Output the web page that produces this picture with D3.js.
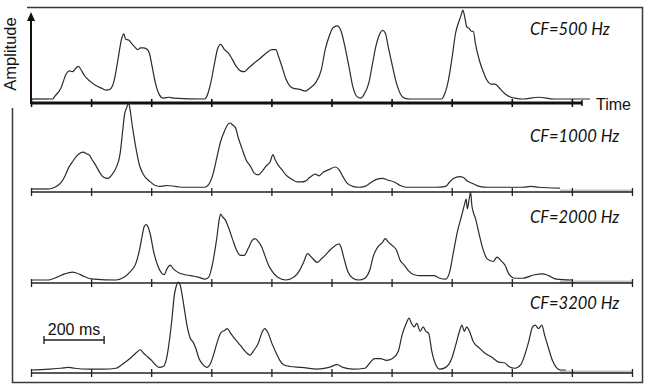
<!DOCTYPE html>
<html><head><meta charset="utf-8">
<script src="https://cdn.jsdelivr.net/npm/d3@7"></script>
<style>html,body{margin:0;padding:0;background:#fff;}svg{display:block;}</style>
</head><body>
<svg id="chart" width="654" height="392"></svg>
<script>
// ---- data (time in ms, amplitude in relative units 0-100) ----
const labels = ["CF=500 Hz", "CF=1000 Hz", "CF=2000 Hz", "CF=3200 Hz"];
const tickMs = [0,200,400,600,800,1000,1200,1400,1600,1800,2000];
const scaleBarMs = 200;

const cf500 = [[0,0],[72,0],[79,3],[99,12],[118,29],[127,32],[138,31],[149,35],[158,37],[167,33],[177,27],[197,20],[217,15],[237,12],[250,10],[263,11],[276,20],[289,44],[302,69],[309,74],[315,68],[325,67],[335,63],[346,59],[355,56],[364,58],[375,58],[388,56],[394,52],[403,37],[414,18],[427,5],[440,1],[460,2],[473,1],[578,0],[585,3],[598,18],[611,41],[620,56],[631,62],[644,56],[657,52],[670,45],[683,37],[697,32],[710,31],[723,35],[743,41],[762,46],[782,52],[802,56],[815,56],[824,48],[835,37],[848,23],[861,15],[874,12],[894,11],[913,9],[927,12],[946,18],[966,33],[979,56],[992,71],[1005,81],[1019,83],[1032,77],[1045,59],[1058,37],[1071,14],[1084,3],[1097,1],[1108,5],[1124,18],[1137,41],[1147,59],[1157,71],[1170,78],[1179,75],[1189,59],[1203,37],[1216,18],[1229,6],[1242,1],[1262,0],[1367,0],[1373,3],[1387,18],[1400,44],[1413,75],[1426,90],[1433,97],[1437,101],[1443,94],[1450,82],[1459,80],[1465,77],[1472,77],[1479,63],[1492,44],[1505,31],[1518,21],[1531,17],[1544,17],[1557,13],[1577,6],[1597,2],[1610,1],[1636,0],[1689,2],[1741,0],[1860,0]];

const cf1000 = [[0,0],[59,0],[79,2],[99,7],[112,14],[125,24],[138,31],[151,37],[164,41],[175,42],[184,40],[193,39],[204,33],[217,26],[230,18],[243,13],[256,12],[269,16],[283,24],[296,39],[306,69],[311,84],[318,92],[325,97],[330,90],[335,77],[342,61],[351,43],[361,27],[375,16],[394,9],[414,4],[434,3],[453,4],[480,3],[506,2],[559,2],[578,2],[591,5],[605,16],[618,35],[631,54],[644,66],[657,74],[664,75],[670,73],[680,70],[690,58],[703,45],[716,33],[730,26],[743,18],[756,16],[769,20],[782,26],[796,31],[805,39],[813,33],[821,28],[835,22],[848,16],[868,11],[887,8],[900,8],[913,9],[927,13],[946,17],[959,15],[972,19],[992,22],[1012,25],[1025,22],[1038,14],[1051,7],[1071,3],[1091,2],[1111,3],[1130,7],[1150,11],[1170,12],[1189,10],[1209,8],[1229,4],[1249,2],[1295,2],[1347,2],[1380,3],[1393,8],[1406,12],[1426,14],[1439,13],[1452,9],[1472,6],[1492,3],[1518,2],[1597,2],[1636,2],[1663,3],[1689,2],[1760,1]];

const cf2000 = [[0,0],[59,0],[85,3],[112,7],[138,9],[151,8],[171,5],[191,2],[210,1],[283,0],[309,3],[329,9],[348,18],[361,34],[371,52],[377,61],[384,63],[390,60],[397,52],[407,34],[421,17],[434,8],[443,6],[453,13],[463,17],[473,13],[493,8],[513,6],[532,5],[559,3],[578,1],[591,3],[605,20],[618,47],[627,70],[631,75],[637,72],[647,68],[657,60],[670,47],[684,34],[697,28],[710,28],[723,36],[736,45],[745,47],[756,44],[767,38],[776,30],[789,18],[802,10],[821,3],[848,0],[874,3],[894,11],[907,20],[920,30],[933,26],[953,20],[966,24],[979,28],[992,33],[1012,39],[1025,41],[1032,37],[1042,24],[1055,9],[1071,2],[1091,0],[1111,2],[1127,11],[1140,28],[1153,37],[1170,43],[1179,47],[1189,43],[1203,39],[1216,34],[1229,22],[1242,17],[1255,11],[1275,6],[1295,5],[1321,5],[1341,5],[1360,2],[1380,1],[1393,9],[1406,32],[1419,55],[1433,73],[1442,85],[1448,92],[1452,81],[1459,94],[1463,100],[1467,85],[1472,77],[1479,70],[1492,51],[1505,34],[1518,24],[1538,21],[1551,26],[1564,22],[1577,17],[1590,7],[1610,2],[1636,2],[1676,6],[1702,7],[1722,5],[1748,1],[1800,0]];

const cf3200 = [[0,0],[59,1],[99,2],[125,3],[145,2],[191,1],[243,1],[283,2],[302,6],[322,11],[342,17],[355,21],[364,23],[375,19],[388,15],[401,11],[414,6],[427,3],[440,4],[451,13],[460,32],[469,58],[477,85],[484,96],[490,100],[497,96],[503,85],[510,70],[519,51],[530,36],[539,32],[548,25],[559,13],[572,6],[585,3],[598,8],[609,19],[620,32],[631,42],[644,45],[653,47],[664,42],[677,36],[697,28],[716,20],[729,17],[743,23],[756,30],[769,43],[778,47],[789,42],[802,30],[815,20],[828,11],[841,6],[861,4],[900,3],[953,1],[992,3],[1019,6],[1038,3],[1071,1],[1111,2],[1130,9],[1143,13],[1163,13],[1183,11],[1203,13],[1222,21],[1235,40],[1249,53],[1258,59],[1266,53],[1275,49],[1284,53],[1295,44],[1305,49],[1314,44],[1323,42],[1334,21],[1347,6],[1360,1],[1380,3],[1400,13],[1413,28],[1426,44],[1434,51],[1442,44],[1450,49],[1459,44],[1472,32],[1492,25],[1511,19],[1531,15],[1557,9],[1577,8],[1590,4],[1610,2],[1630,6],[1643,17],[1656,32],[1669,49],[1678,51],[1689,47],[1700,51],[1709,40],[1722,25],[1735,11],[1748,3],[1761,0],[1780,0]];

const series = [cf500, cf1000, cf2000, cf3200];

// ---- layout ----
const svg = d3.select("#chart");
const x = d3.scaleLinear().domain([0, 2000]).range([31, 632]);
const axisY = [103, 192, 283, 373];
const baseOffset = [4, 3, 3, 3];
const labelY = [35, 142, 223, 309];

// outer frame (open at upper-left)
svg.append("path")
  .attr("d", "M27,7.5 H642.5 V382.5 H12.5 V108")
  .attr("fill", "none").attr("stroke", "#3a3a3a").attr("stroke-width", 1.5);

series.forEach((data, i) => {
  const base = axisY[i] - baseOffset[i];
  const y = d3.scaleLinear().domain([0, 100]).range([base, base - 88]);
  const g = svg.append("g");

  // light gray flat tails
  if (i > 0) {
    g.append("line").attr("x1", x(1760)).attr("x2", x(2000))
      .attr("y1", axisY[i] - 1).attr("y2", axisY[i] - 1)
      .attr("stroke", "#c4c4c4").attr("stroke-width", 3);
  }
  if (i < 2) {
    g.append("line").attr("x1", x(0)).attr("x2", x(60))
      .attr("y1", base).attr("y2", base)
      .attr("stroke", "#c4c4c4").attr("stroke-width", 2);
  }

  // axis
  if (i === 0) {
    const ax = d3.axisBottom(x).tickValues(tickMs.slice(0, 10)).tickSize(8).tickFormat("");
    const ag = g.append("g").attr("transform", `translate(0,${axisY[i] - 4})`).call(ax);
    ag.select(".domain").remove();
    ag.selectAll("line").attr("stroke", "#111").attr("stroke-width", 1.6);
    g.append("line").attr("x1", 31).attr("x2", 582).attr("y1", axisY[i]).attr("y2", axisY[i])
      .attr("stroke", "#111").attr("stroke-width", 3);
    g.append("line").attr("x1", 582).attr("x2", 582).attr("y1", axisY[i] - 3).attr("y2", axisY[i] + 3)
      .attr("stroke", "#111").attr("stroke-width", 1.5);
    // y arrow
    g.append("line").attr("x1", 31).attr("x2", 31).attr("y1", axisY[i] + 1).attr("y2", 18)
      .attr("stroke", "#111").attr("stroke-width", 2);
    g.append("path").attr("d", "M31,12 L27,21 L35,21 Z").attr("fill", "#111");
  } else {
    const ax = d3.axisBottom(x).tickValues(tickMs).tickSize(8).tickFormat("");
    const ag = g.append("g").attr("transform", `translate(0,${axisY[i] - 4})`).call(ax);
    ag.select(".domain").remove();
    ag.selectAll("line").attr("stroke", "#222").attr("stroke-width", 1.3);
    g.append("line").attr("x1", x(0)).attr("x2", x(2000)).attr("y1", axisY[i]).attr("y2", axisY[i])
      .attr("stroke", "#222").attr("stroke-width", 1.6);
  }

  // curve
  const line = d3.line().x(d => x(d[0])).y(d => y(d[1])).curve(d3.curveMonotoneX);
  g.append("path").datum(data).attr("d", line)
    .attr("fill", "none").attr("stroke", "#2b2b2b").attr("stroke-width", 1.2)
    .attr("stroke-linejoin", "round");

  // label
  g.append("text").attr("x", 530).attr("y", labelY[i])
    .attr("font-family", "Lato, 'Open Sans', sans-serif").attr("font-style", "italic")
    .attr("font-size", 16.5).attr("fill", "#111").text(labels[i]);
});

// axis titles
svg.append("text").attr("transform", "translate(16,54) rotate(-90)")
  .attr("text-anchor", "middle").attr("font-family", "Liberation Sans, Arial, sans-serif")
  .attr("font-size", 16.5).attr("fill", "#111").text("Amplitude");
svg.append("text").attr("x", 596).attr("y", 110)
  .attr("font-family", "Liberation Sans, Arial, sans-serif")
  .attr("font-size", 16).attr("fill", "#111").text("Time");

// scale bar
const sb = svg.append("g");
const sbY = 340, sbX0 = 44;
const sbX1 = sbX0 + (x(scaleBarMs) - x(0));
sb.append("line").attr("x1", sbX0).attr("x2", sbX1).attr("y1", sbY).attr("y2", sbY)
  .attr("stroke", "#222").attr("stroke-width", 1.6);
[sbX0, sbX1].forEach(v => sb.append("line").attr("x1", v).attr("x2", v)
  .attr("y1", sbY - 4).attr("y2", sbY + 4).attr("stroke", "#222").attr("stroke-width", 1.4));
sb.append("text").attr("x", (sbX0 + sbX1) / 2).attr("y", 335).attr("text-anchor", "middle")
  .attr("font-family", "Liberation Sans, Arial, sans-serif").attr("font-size", 16)
  .attr("fill", "#111").text(scaleBarMs + " ms");
</script>
</body></html>
